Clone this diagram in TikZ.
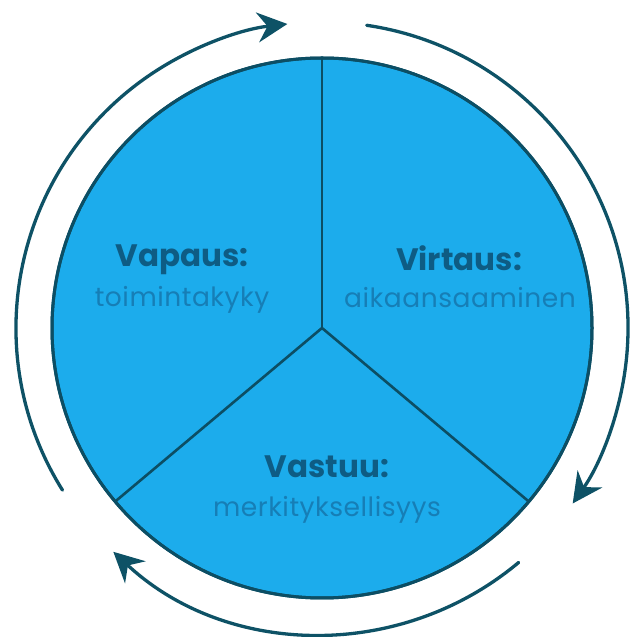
\documentclass[tikz,border=0pt]{standalone}
\usepackage{fontspec}
\setmainfont{Poppins}
\usetikzlibrary{arrows.meta}
\definecolor{fillblue}{RGB}{28,172,236}
\definecolor{edgeteal}{RGB}{12,78,100}
\definecolor{arrowteal}{RGB}{14,82,102}
\definecolor{titleblue}{RGB}{14,92,132}
\definecolor{subblue}{RGB}{22,126,182}
\tikzset{
  wheel/.style={fill=fillblue, draw=edgeteal, line width=3pt},
  divider/.style={draw=edgeteal, line width=2.6pt},
  cycle arrow/.style={draw=arrowteal, line width=3.3pt, line cap=round,
    -{Stealth[length=30pt, width=30pt, inset=10pt]}},
  title/.style={text=titleblue, font=\fontsize{31}{36}\selectfont\bfseries, inner sep=0pt},
  subtitle/.style={text=subblue, font=\fontsize{26.5}{31}\selectfont\addfontfeature{LetterSpace=2}, inner sep=0pt}
}
\begin{document}
\begin{tikzpicture}[x=1pt,y=1pt]
\useasboundingbox (0,0) rectangle (637,637);
\coordinate (c) at (322,309);
\coordinate (top) at ([shift={(90:270)}]c);
\coordinate (lr) at ([shift={(320:270)}]c);
\coordinate (ll) at ([shift={(220:270)}]c);
\draw[wheel] (c) circle (270);
\draw[divider] (c) -- (top);
\draw[divider] (c) -- (lr);
\draw[divider] (c) -- (ll);
\draw[wheel, fill=none] (c) circle (270);
% cycle arrows
\coordinate (a1) at ([shift={(212:306)}]c);
\coordinate (a2) at ([shift={(81.6:306)}]c);
\coordinate (a3) at ([shift={(-50:306)}]c);
\draw[cycle arrow] (a1) arc[start angle=212, end angle=96.5, radius=306];
\draw[cycle arrow] (a2) arc[start angle=81.6, end angle=-35, radius=306];
\draw[cycle arrow] (a3) arc[start angle=-50, end angle=-133, radius=306];
% labels
\node[title] (vapaus) at (182,377) {Vapaus:};
\node[subtitle] (toim) at (182,337) {toimintakyky};
\node[title] (virtaus) at (459,379) {Virtaus:};
\node[subtitle] (aika) at (460,339) {aikaansaaminen};
\node[title] (vastuu) at (327,170) {Vastuu:};
\node[subtitle] (merk) at (327,127) {merkityksellisyys};
\end{tikzpicture}
\end{document}
